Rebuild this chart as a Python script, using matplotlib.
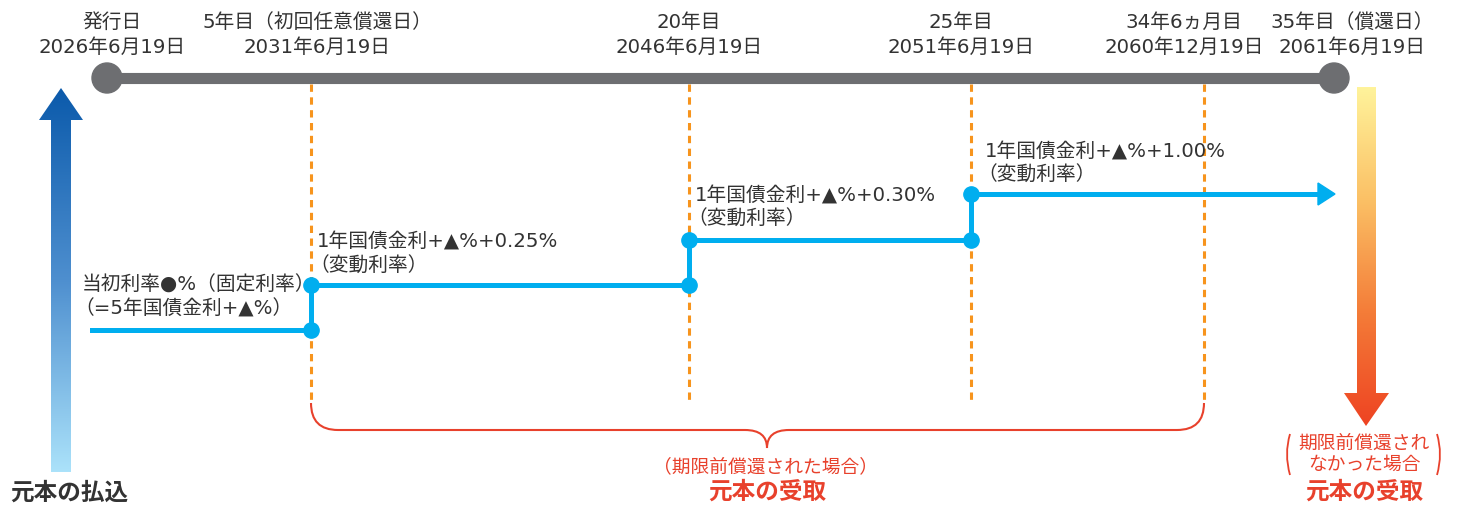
import numpy as np
import matplotlib.pyplot as plt
from matplotlib.patches import Polygon, Circle, PathPatch
from matplotlib.path import Path
from matplotlib.colors import LinearSegmentedColormap

# Latin glyphs from DejaVu (Verdana-like widths), Japanese from Noto CJK
plt.rcParams['font.family'] = ['DejaVu Sans', 'Noto Sans CJK JP']

# ----------------------------------------------------------------------
# Diagram content (coordinates are in pixel units of the 1459x507 canvas)
# ----------------------------------------------------------------------
W, H = 1459, 507

milestone_titles = ['発行日', '5年目（初回任意償還日）', '20年目', '25年目',
                    '34年6ヵ月目', '35年目（償還日）']
milestone_dates = ['2026年6月19日', '2031年6月19日', '2046年6月19日',
                   '2051年6月19日', '2060年12月19日', '2061年6月19日']
milestone_label_x = [112, 317, 689, 961, 1184, 1352]

timeline_start, timeline_end = 107, 1334
call_dates_x = [311, 689, 971, 1204]          # dashed orange verticals

step_x = [92, 311, 689, 971, 1318]            # breakpoints of the rate path
step_y = [330, 285, 240, 194]                 # rate level of each period

rate_labels = [
    ['当初利率●%（固定利率）', '（=5年国債金利+▲%）'],
    ['1年国債金利+▲%+0.25%', '（変動利率）'],
    ['1年国債金利+▲%+0.30%', '（変動利率）'],
    ['1年国債金利+▲%+1.00%', '（変動利率）'],
]
rate_label_x = [82, 317, 695, 985]

DARK = '#333333'
GRAY = '#6d6e71'
ORANGE = '#f7941d'
BLUE = '#00aeef'
RED = '#e8412c'
FS = 14.2


def put_lines(ax, x, ys, lines, ha='left', **kw):
    for y, s in zip(ys, lines):
        dx = -8 if (ha == 'left' and s.startswith('（')) else 0
        ax.text(x + dx, y, s, ha=ha, va='center', **kw)


def gradient_arrow(ax, verts, y_top, y_bot, colors):
    cmap = LinearSegmentedColormap.from_list('g', colors)
    poly = Polygon(verts, closed=True, facecolor='none', edgecolor='none')
    ax.add_patch(poly)
    xs = [v[0] for v in verts]
    grad = np.linspace(0, 1, 256).reshape(-1, 1)
    im = ax.imshow(grad, cmap=cmap, aspect='auto', origin='upper',
                   extent=[min(xs), max(xs), y_bot, y_top], zorder=2)
    im.set_clip_path(poly)


fig = plt.figure(figsize=(W / 100, H / 100), dpi=100)
ax = fig.add_axes([0, 0, 1, 1])

# timeline
ax.plot([timeline_start, timeline_end], [78, 78], color=GRAY, lw=8,
        solid_capstyle='butt', zorder=3)
for cx in (timeline_start, timeline_end):
    ax.add_patch(Circle((cx, 78), 15, color=GRAY, zorder=4))

for title, date, lx in zip(milestone_titles, milestone_dates, milestone_label_x):
    put_lines(ax, lx, [22, 47], [title, date], ha='center', fontsize=FS,
              color=DARK)

# dashed call-date lines
for x in call_dates_x:
    ax.plot([x, x], [84, 403], color=ORANGE, lw=2.2, dashes=(2.4, 1.8),
            zorder=1)

# rate path
px, py = [step_x[0]], [step_y[0]]
for i in range(1, len(step_x)):
    px.append(step_x[i])
    py.append(step_y[i - 1])
    if i < len(step_y):
        px.append(step_x[i])
        py.append(step_y[i])
ax.plot(px, py, color=BLUE, lw=3.6, solid_joinstyle='miter', zorder=5)
for i in range(1, len(step_y)):
    ax.plot([step_x[i]] * 2, [step_y[i - 1], step_y[i]], 'o', color=BLUE,
            ms=11, zorder=6)
ax.add_patch(Polygon([[step_x[-1], step_y[-1] - 11], [step_x[-1] + 17, step_y[-1]],
                      [step_x[-1], step_y[-1] + 11]], color=BLUE, zorder=5))

label_rows = [(285, 309), (242, 266), (196, 219), (152, 175)]
for lines, lx, ys in zip(rate_labels, rate_label_x, label_rows):
    put_lines(ax, lx, ys, lines, fontsize=FS, color=DARK)

# payment / redemption arrows
gradient_arrow(ax, [(51, 472), (51, 120), (39, 120), (61, 88), (83, 120),
                    (71, 120), (71, 472)], 88, 472,
               ['#0b5aab', '#4e8fcf', '#abe2fa'])
gradient_arrow(ax, [(1357, 87), (1376, 87), (1376, 393), (1389, 393),
                    (1366, 426), (1344, 393), (1357, 393)], 87, 426,
               ['#fff39b', '#fbc065', '#f47c38', '#ee4322'])

# brace
brace = Path([(311, 403), (311, 430), (338, 430), (745, 430), (767, 430),
              (767, 448), (767, 430), (789, 430), (1177, 430), (1204, 430),
              (1204, 403)],
             [Path.MOVETO, Path.CURVE3, Path.CURVE3, Path.LINETO, Path.CURVE3,
              Path.CURVE3, Path.CURVE3, Path.CURVE3, Path.LINETO, Path.CURVE3,
              Path.CURVE3])
ax.add_patch(PathPatch(brace, facecolor='none', edgecolor=RED, lw=1.5))

# parentheses around right note
for x0, x1 in ((1290, 1284), (1437, 1443)):
    p = Path([(x0, 434), (x1, 454), (x0, 475)],
             [Path.MOVETO, Path.CURVE3, Path.CURVE3])
    ax.add_patch(PathPatch(p, facecolor='none', edgecolor=RED, lw=1.3))

ax.text(765, 467, '（期限前償還された場合）', ha='center', va='center',
        fontsize=13.5, color=RED)
ax.text(767, 492, '元本の受取', ha='center', va='center', fontsize=17,
        fontweight='bold', color=RED)
put_lines(ax, 1364, [443, 464], ['期限前償還され', 'なかった場合'],
          ha='center', fontsize=13.5, color=RED)
ax.text(1364, 492, '元本の受取', ha='center', va='center', fontsize=17,
        fontweight='bold', color=RED)
ax.text(10, 493, '元本の払込', ha='left', va='center', fontsize=17,
        fontweight='bold', color=DARK)

ax.set_xlim(0, W)
ax.set_ylim(H, 0)
ax.axis('off')
fig.savefig('out.png', dpi=100)
